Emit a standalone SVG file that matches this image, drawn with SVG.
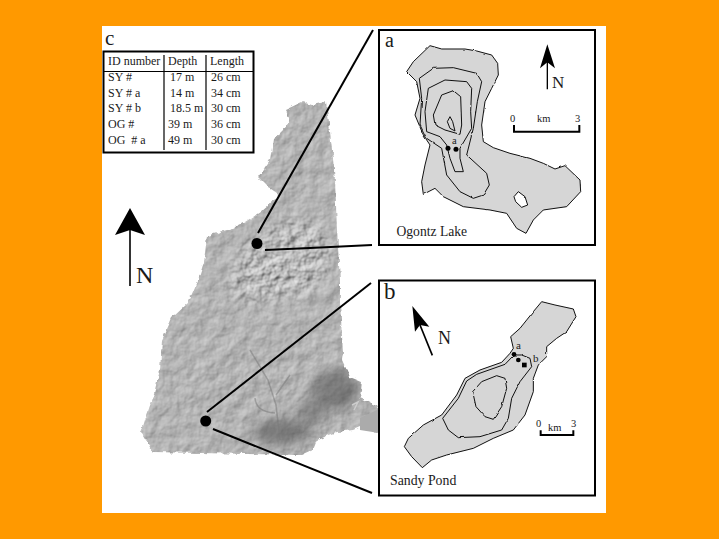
<svg xmlns="http://www.w3.org/2000/svg" width="719" height="539" viewBox="0 0 719 539">
<style>
text{font-family:"Liberation Serif","Times New Roman",serif;fill:#1a1a1a}
.lake{fill:#d6d6d6;stroke:#000;stroke-width:2.8;stroke-linejoin:round}
.ct{fill:none;stroke:#000;stroke-width:2.8;stroke-linejoin:round}
.hole{fill:#fff;stroke:#000;stroke-width:2.8;stroke-linejoin:round}
.panel{fill:#fff;stroke:#000;stroke-width:2}
.conn{stroke:#000;stroke-width:2;fill:none}
.rule{stroke:#000;stroke-width:1.2;fill:none}
.t{font-size:12px}
.s{font-size:10.5px}
</style>
<defs>
<filter id="relief" x="0" y="0" width="1" height="1" color-interpolation-filters="sRGB">
<feTurbulence type="fractalNoise" baseFrequency=".07" numOctaves="4" seed="7" result="n"/>
<feDiffuseLighting in="n" surfaceScale="1.1" diffuseConstant=".86" lighting-color="#fff"><feDistantLight azimuth="225" elevation="55"/></feDiffuseLighting>
</filter>
<filter id="rough" x="-10%" y="-10%" width="120%" height="120%" color-interpolation-filters="sRGB">
<feTurbulence type="fractalNoise" baseFrequency=".09" numOctaves="3" seed="11" result="n"/>
<feDiffuseLighting in="n" surfaceScale="2.4" diffuseConstant=".9" lighting-color="#fff" result="l"><feDistantLight azimuth="225" elevation="55"/></feDiffuseLighting>
<feGaussianBlur in="SourceAlpha" stdDeviation="9" result="a"/>
<feComposite in="l" in2="a" operator="in"/>
</filter>
<filter id="jag" x="-5%" y="-5%" width="110%" height="110%">
<feTurbulence type="fractalNoise" baseFrequency=".16" numOctaves="2" seed="3" result="n"/>
<feDisplacementMap in="SourceGraphic" in2="n" scale="5" xChannelSelector="R" yChannelSelector="G"/>
</filter>
<filter id="wob" x="-5%" y="-5%" width="110%" height="110%">
<feTurbulence type="fractalNoise" baseFrequency=".1" numOctaves="2" seed="9" result="n"/>
<feDisplacementMap in="SourceGraphic" in2="n" scale="2" xChannelSelector="R" yChannelSelector="G"/>
</filter>
<filter id="soft" x="-50%" y="-50%" width="200%" height="200%"><feGaussianBlur stdDeviation="6"/></filter>
<mask id="state" maskUnits="userSpaceOnUse" x="120" y="90" width="270" height="380"><path filter="url(#jag)" fill="#fff" d="M302 102 L312 105 L326 102 L329 122 L332 150 L335 180 L337 230 L340 280 L340 303 L343 353 L342 360 L350 377 L362 382 L360 398 L377 406 L379 410 L379 433 L360 427 L353 430 L337 432 L317 440 L313 450 L302 455 L153 452 L141 433 L145 420 L153 397 L160 370 L162 340 L172 318 L188 303 L198 280 L204 262 L207 236 L220 232 L233 228 L245 222 L260 212 L268 205 L280 195 L268 187 L258 177 L270 160 L273 140 L285 128 L290 120 L285 110 Z"/></mask>
</defs>
<rect width="719" height="539" fill="#ff9900"/>
<rect x="102" y="26" width="504" height="487" fill="#fff"/>
<g id="state-map">
<g mask="url(#state)">
<rect x="120" y="90" width="270" height="380" fill="#000" filter="url(#relief)"/>
<path d="M225 290 L240 245 L290 215 L328 225 L335 270 L310 295 L250 305 Z" fill="#000" filter="url(#rough)"/>
<ellipse cx="336" cy="390" rx="24" ry="20" fill="#4c4c4c" opacity=".55" filter="url(#soft)"/>
<ellipse cx="282" cy="432" rx="30" ry="13" fill="#4c4c4c" opacity=".55" filter="url(#soft)"/>
<ellipse cx="312" cy="412" rx="16" ry="14" fill="#555" opacity=".45" filter="url(#soft)"/>
<path d="M250 350 L268 380 L276 405 L280 440 M290 375 L276 395 M255 398 Q256 412 275 413" fill="none" stroke="#777" stroke-width="1.5" opacity=".5"/>
<path d="M352 405 L358 402 L354 410" fill="none" stroke="#ccc" stroke-width="1.5"/>
</g>
<polygon points="360,418 379,409 379,433 360,430" fill="#ababab"/>
</g>
<g id="connectors">
<line class="conn" x1="258" y1="233" x2="373" y2="30"/>
<path class="conn" d="M265 250 L310 248 L372 245"/>
<line class="conn" x1="207" y1="412" x2="371" y2="283"/>
<line class="conn" x1="213" y1="429" x2="372" y2="493"/>
</g>
<g id="site-og"><circle cx="257" cy="243.5" r="5.5" fill="#000"/></g>
<g id="site-sy"><circle cx="205.7" cy="421" r="5.5" fill="#000"/></g>
<g id="north-c">
<line x1="130" y1="225" x2="130" y2="286" stroke="#000" stroke-width="1.6"/>
<path d="M130 208 L145 235 L130 230 L115 235 Z" fill="#000"/>
<text x="136" y="283" font-size="24">N</text>
</g>
<g id="table-c">
<text x="105" y="45" font-size="21">c</text>
<rect x="103.500" y="51.500" width="150" height="101" fill="#fff" stroke="#000" stroke-width="2"/>
<line class="rule" x1="104" y1="71.500" x2="253" y2="71.500"/>
<line class="rule" x1="164" y1="55" x2="164" y2="150"/>
<line class="rule" x1="206" y1="55" x2="206" y2="150"/>
<g class="t">
<text x="108" y="65">ID number</text><text x="168" y="65">Depth</text><text x="210" y="65">Length</text>
<text x="108" y="81">SY #</text><text x="170" y="81">17 m</text><text x="211" y="81">26 cm</text>
<text x="108" y="97">SY # a</text><text x="170" y="97">14 m</text><text x="211" y="97">34 cm</text>
<text x="108" y="112">SY # b</text><text x="170" y="112">18.5 m</text><text x="211" y="112">30 cm</text>
<text x="108" y="128">OG #</text><text x="168" y="128">39 m</text><text x="211" y="128">36 cm</text>
<text x="108" y="144" xml:space="preserve">OG  # a</text><text x="168" y="144">49 m</text><text x="211" y="144">30 cm</text>
</g>
</g>
<g id="panel-a">
<rect class="panel" x="379" y="30" width="216" height="215"/>
<text x="385" y="47" font-size="20">a</text>
<g filter="url(#wob)">
<g transform="translate(370 25) scale(.33333)">
<polygon class="lake" points="180,62 215,72 285,72 320,78 365,90 383,115 385,150 365,190 345,230 335,300 340,350 370,368 420,385 480,400 520,415 555,432 585,422 630,465 632,500 590,545 520,555 490,585 468,625 440,610 410,565 360,555 280,545 220,515 195,490 160,508 155,470 165,420 180,360 160,330 135,270 150,220 140,170 110,140 130,110"/>
<polygon class="hole" points="432,515 445,500 465,515 473,540 455,547 437,530"/>
<polygon class="ct" points="148,160 190,130 250,128 320,145 335,170 322,230 310,310 290,390 350,445 358,480 340,510 310,520 270,500 230,450 215,370 170,340 150,300 155,220"/>
<polygon class="ct" points="175,190 225,165 290,170 305,190 302,260 305,310 270,370 270,400 280,440 255,440 240,400 230,360 210,335 170,320 165,260"/>
<polygon class="ct" points="190,270 215,210 250,197 272,215 275,300 270,328 225,315 195,300"/>
<polygon class="ct" points="232,290 240,275 248,290 255,318 240,310"/>
</g>
</g>
<g transform="translate(370 25) scale(.33333)">
<circle cx="234" cy="370" r="7.500"/><circle cx="258" cy="373" r="7.500"/>
<line x1="532" y1="110" x2="532" y2="193" stroke="#000" stroke-width="4"/>
<path d="M532 58 L555 130 L532 112 L510 130 Z"/>
<path d="M432 300 V320 H628 V300" fill="none" stroke="#000" stroke-width="6"/>
</g>
<text x="552" y="88" font-size="17">N</text>
<text class="s" x="510" y="122">0</text><text class="s" x="537" y="122">km</text><text class="s" x="575" y="122">3</text>
<text x="452" y="144" font-size="10.5">a</text>
<text x="396.500" y="236" font-size="13.6">Ogontz Lake</text>
</g>
<g id="panel-b">
<rect class="panel" x="379" y="280.500" width="216" height="215"/>
<text x="384" y="299" font-size="23">b</text>
<g filter="url(#wob)">
<g transform="translate(370 275) scale(.33333)">
<polygon class="lake" points="515,80 555,90 610,102 618,125 590,170 560,190 530,215 530,245 505,270 490,310 490,350 465,420 430,465 370,490 310,520 230,540 185,555 157,578 125,545 103,515 115,490 160,450 215,420 260,360 285,310 330,285 395,262 420,235 430,220 422,185 450,160 490,110"/>
<polygon class="ct" points="432,240 405,268 320,298 290,318 265,370 218,430 235,465 265,488 330,485 395,465 415,430 425,370 450,320 485,275 480,250 455,240"/>
<polygon class="ct" points="308,350 335,320 380,302 405,310 410,340 395,395 370,433 345,425 318,395"/>
</g>
</g>
<g transform="translate(370 275) scale(.33333)">
<circle cx="432" cy="238" r="7"/><circle cx="445" cy="255" r="7"/><rect x="456" y="263" width="14" height="14"/>
<line x1="187" y1="241" x2="150" y2="150" stroke="#000" stroke-width="5"/>
<path d="M127 93 L178 155 L150 150 L135 170 Z"/>
<path d="M512 466 V480 H610 V466" fill="none" stroke="#000" stroke-width="6"/>
</g>
<text x="438" y="344" font-size="18">N</text>
<text class="s" x="536" y="427">0</text><text class="s" x="548" y="431">km</text><text class="s" x="571" y="427">3</text>
<text x="516" y="349" font-size="11">a</text>
<text x="533" y="362" font-size="11">b</text>
<text x="390" y="485" font-size="13.8">Sandy Pond</text>
</g>
</svg>
